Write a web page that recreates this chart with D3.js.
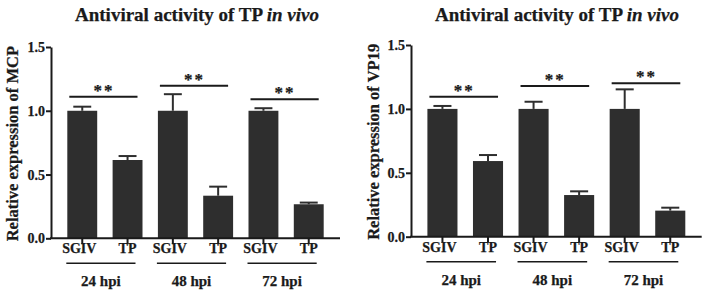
<!DOCTYPE html>
<html>
<head>
<meta charset="utf-8">
<script src="https://cdn.jsdelivr.net/npm/d3@7"></script>
<style>
  body { margin: 0; background: #fff; }
  text { font-family: "Liberation Serif", "Times New Roman", serif; font-weight: bold; fill: #1a1a1a; stroke: #1a1a1a; stroke-width: 0.25px; }
</style>
</head>
<body>
<div id="chart"></div>
<script>
const groups = ["24 hpi", "48 hpi", "72 hpi"];
const treatments = ["SGIV", "TP"];
const yTicks = [0, 0.5, 1.0, 1.5];

// MCP panel
const mcpMean = [1.0, 0.614, 1.0, 0.334, 1.0, 0.267];
const mcpErr = [0.032, 0.031, 0.13, 0.071, 0.02, 0.013];
const mcpSig = [1.11, 1.197, 1.09];

// VP19 panel
const vp19Mean = [1.0, 0.592, 1.0, 0.326, 1.0, 0.204];
const vp19Err = [0.023, 0.047, 0.056, 0.029, 0.153, 0.023];
const vp19Sig = [1.095, 1.18, 1.2];

const svg = d3.select("#chart").append("svg")
    .attr("width", 705)
    .attr("height", 296);

function drawPanel(opts) {
    const { left, right, top, bottom, mean, err, sig, ylabel, ylabelX, titleX } = opts;
    const g = svg.append("g");
    const color = "#2e2e2e";

    const keys = [];
    groups.forEach(gr => treatments.forEach(t => keys.push(gr + "|" + t)));

    const x = d3.scaleBand()
        .domain(keys)
        .range([left, right])
        .paddingInner(0.34)
        .paddingOuter(0.36);

    const y = d3.scaleLinear()
        .domain([0, 1.5])
        .range([bottom, top]);

    const bw = x.bandwidth();

    // title
    const title = g.append("text")
        .attr("x", titleX)
        .attr("y", 21)
        .attr("text-anchor", "middle")
        .style("font-size", "19px");
    title.append("tspan").text("Antiviral activity of TP ");
    title.append("tspan").style("font-style", "italic").text("in vivo");

    // bars
    g.selectAll(".bar")
        .data(mean)
        .join("rect")
        .attr("x", (d, i) => x(keys[i]))
        .attr("y", d => y(d))
        .attr("width", bw)
        .attr("height", d => y(0) - y(d))
        .attr("fill", color);

    // error bars (upper only)
    const eb = g.selectAll(".err")
        .data(mean.map((d, i) => ({ m: d, e: err[i], k: keys[i] })))
        .join("g");
    eb.append("line")
        .attr("x1", d => x(d.k) + bw / 2)
        .attr("x2", d => x(d.k) + bw / 2)
        .attr("y1", d => y(d.m))
        .attr("y2", d => y(d.m + d.e))
        .attr("stroke", color)
        .attr("stroke-width", 2);
    eb.append("line")
        .attr("x1", d => x(d.k) + bw * 0.2)
        .attr("x2", d => x(d.k) + bw * 0.8)
        .attr("y1", d => y(d.m + d.e))
        .attr("y2", d => y(d.m + d.e))
        .attr("stroke", color)
        .attr("stroke-width", 2);

    // y axis
    const yAxis = g.append("g")
        .attr("transform", `translate(${left},0)`)
        .call(d3.axisLeft(y).tickValues(yTicks).tickFormat(d3.format(".1f")).tickSize(5).tickSizeOuter(0));
    yAxis.attr("font-family", null).attr("font-size", null);
    yAxis.select(".domain").attr("stroke", "#1a1a1a").attr("stroke-width", 2);
    yAxis.selectAll(".tick line").attr("stroke", "#1a1a1a").attr("stroke-width", 2);
    yAxis.selectAll(".tick text")
        .attr("x", -6)
        .attr("fill", "#1a1a1a")
        .style("font-size", "14px");

    // x axis
    const xAxis = g.append("g")
        .attr("transform", `translate(0,${bottom})`)
        .call(d3.axisBottom(x).tickFormat("").tickSize(6).tickSizeOuter(0));
    xAxis.select(".domain").attr("stroke", "#1a1a1a").attr("stroke-width", 2)
        .attr("d", `M${left - 1},0H${right}`);
    xAxis.selectAll(".tick line").attr("stroke", "#1a1a1a").attr("stroke-width", 2);

    // treatment labels
    g.selectAll(".tlabel")
        .data(keys)
        .join("text")
        .attr("x", (k, i) => x(k) + bw / 2 - (i % 2 === 0 ? 3 : 0))
        .attr("y", bottom + 15)
        .attr("text-anchor", "middle")
        .style("font-size", "14px")
        .text(k => k.split("|")[1]);

    // group underline + group labels + significance
    groups.forEach((gr, gi) => {
        const xa = x(gr + "|SGIV");
        const xb = x(gr + "|TP") + bw;
        g.append("line")
            .attr("x1", xa - 1).attr("x2", xb - 7)
            .attr("y1", bottom + 25).attr("y2", bottom + 25)
            .attr("stroke", "#1a1a1a").attr("stroke-width", 1.5);
        g.append("text")
            .attr("x", (xa - 1 + xb - 7) / 2)
            .attr("y", bottom + 48)
            .attr("text-anchor", "middle")
            .style("font-size", "15px")
            .text(gr);

        g.append("line")
            .attr("x1", xa + 2).attr("x2", xb - 5)
            .attr("y1", y(sig[gi])).attr("y2", y(sig[gi]))
            .attr("stroke", "#1a1a1a").attr("stroke-width", 2);
        g.append("text")
            .attr("x", (xa + xb) / 2 - 1)
            .attr("y", y(sig[gi]) - 1)
            .attr("text-anchor", "middle")
            .attr("fill", "#1a1a1a")
            .style("font-size", "17px")
            .style("letter-spacing", "2px")
            .text("**");
    });

    // y label
    g.append("text")
        .attr("transform", `translate(${ylabelX},${(top + bottom) / 2 + 1}) rotate(-90)`)
        .attr("text-anchor", "middle")
        .style("font-size", "16.5px")
        .text(ylabel);
}

drawPanel({
    left: 51, right: 340, top: 47, bottom: 238.3,
    mean: mcpMean, err: mcpErr, sig: mcpSig,
    ylabel: "Relative expression of MCP", ylabelX: 18, titleX: 197
});

drawPanel({
    left: 411, right: 701.7, top: 45, bottom: 236.7,
    mean: vp19Mean, err: vp19Err, sig: vp19Sig,
    ylabel: "Relative expression of VP19", ylabelX: 379, titleX: 557
});
</script>
</body>
</html>
